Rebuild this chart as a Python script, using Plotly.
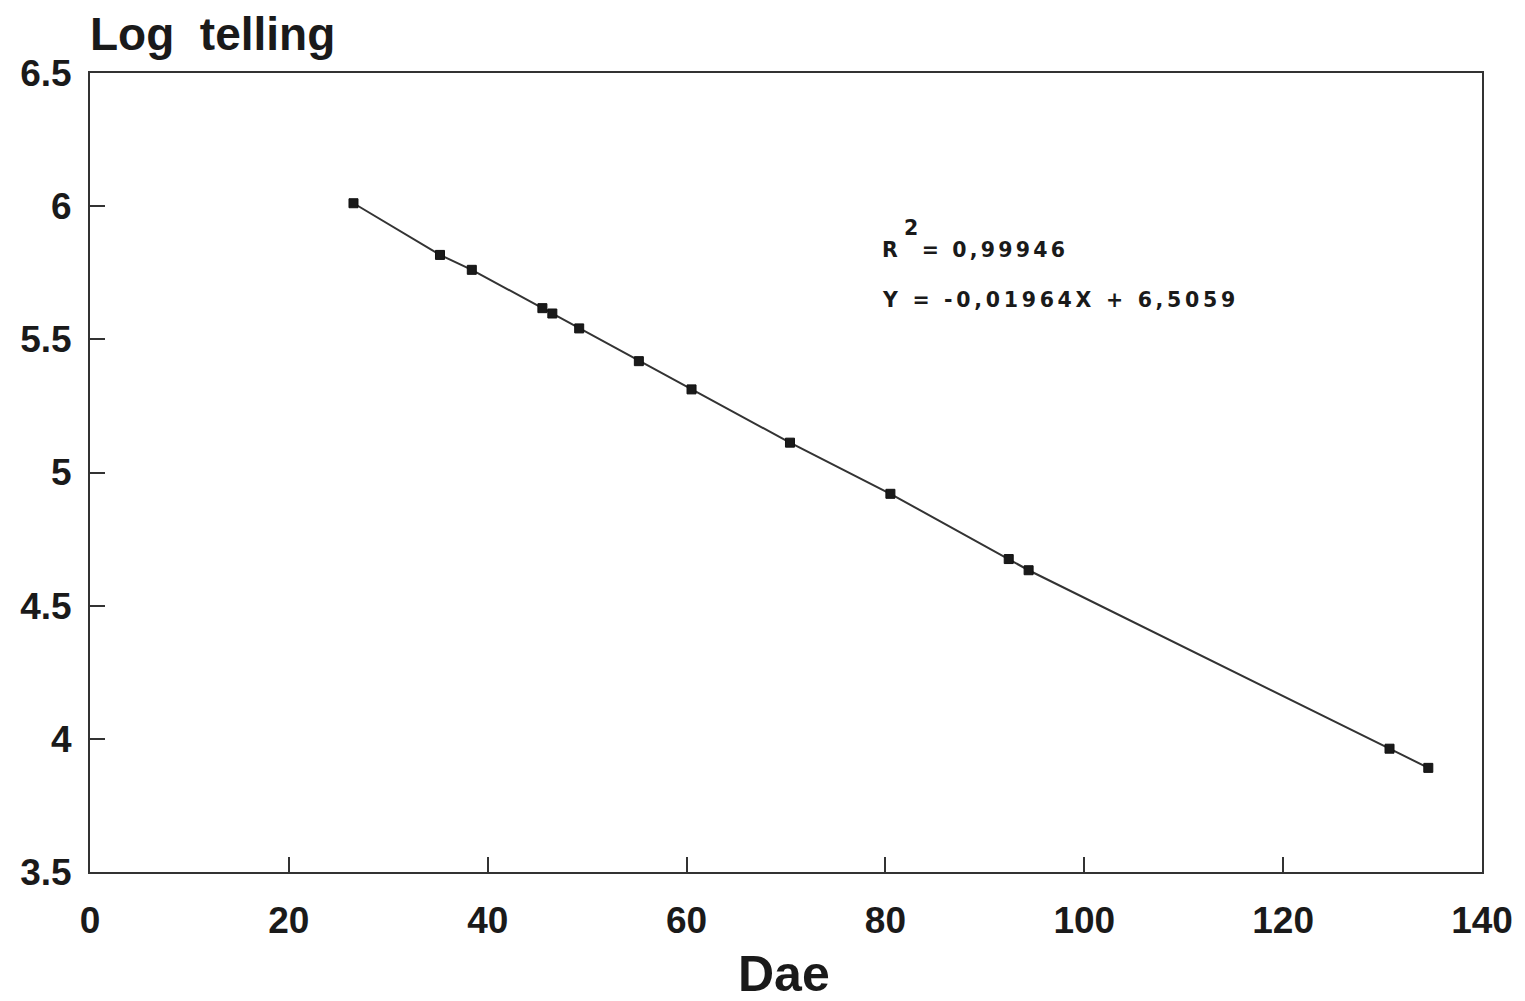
import plotly.graph_objects as go

# Data
dae = [26.5, 35.2, 38.4, 45.5, 46.5, 49.2, 55.2, 60.5, 70.4, 80.5, 92.4, 94.4, 130.7, 134.6]
log_telling = [6.011, 5.817, 5.761, 5.617, 5.597, 5.541, 5.418, 5.312, 5.112, 4.920, 4.675, 4.633, 3.963, 3.891]

x_ticks = [0, 20, 40, 60, 80, 100, 120, 140]
y_ticks = [3.5, 4, 4.5, 5, 5.5, 6, 6.5]

r2_text = "R  = 0,99946"
eq_text = "Y = -0,01964X + 6,5059"

FONT = "Liberation Sans, Arial, Helvetica, sans-serif"
WIDE = "DejaVu Sans, Verdana, sans-serif"

fig = go.Figure()
fig.add_trace(go.Scatter(
    x=dae, y=log_telling, mode="lines+markers",
    line=dict(color="#333333", width=2),
    marker=dict(symbol="square", size=9, color="#1a1a1a",
                line=dict(color="#111111", width=1)),
    showlegend=False, hoverinfo="skip",
))

axis_common = dict(
    showgrid=False, zeroline=False,
    showline=True, linecolor="#333333", linewidth=2, mirror=True,
    ticks="inside", ticklen=15, tickwidth=2, tickcolor="#333333",
    tickfont=dict(family=FONT, size=37, color="#1a1a1a", weight="bold"),
)

fig.update_xaxes(range=[0, 140], tickvals=x_ticks, ticklabelstandoff=15, **axis_common)
fig.update_yaxes(range=[3.5, 6.5], tickvals=y_ticks, ticklabelstandoff=9, **axis_common)

annotations = [
    dict(text="Log\u00a0\u00a0telling",
         xref="paper", yref="paper", x=-0.0015, y=1.0494,
         xanchor="left", yanchor="middle", showarrow=False,
         font=dict(family=FONT, size=46, color="#1a1a1a", weight="bold")),
    dict(text="Dae", xref="paper", yref="paper", x=0.4985, y=-0.1277,
         xanchor="center", yanchor="middle", showarrow=False,
         font=dict(family=FONT, size=50, color="#1a1a1a", weight="bold")),
    dict(text='<span style="letter-spacing:3.2px">' + r2_text + '</span>',
         xref="paper", yref="paper", x=0.5672, y=0.7785,
         xanchor="left", yanchor="middle", showarrow=False,
         font=dict(family=WIDE, size=20.5, color="#1a1a1a", weight="bold")),
    dict(text="2", xref="paper", yref="paper", x=0.5897, y=0.8054,
         xanchor="center", yanchor="middle", showarrow=False,
         font=dict(family=WIDE, size=20.5, color="#1a1a1a", weight="bold")),
    dict(text='<span style="letter-spacing:3.7px">' + eq_text + '</span>',
         xref="paper", yref="paper", x=0.5672, y=0.7159,
         xanchor="left", yanchor="middle", showarrow=False,
         font=dict(family=WIDE, size=20.5, color="#1a1a1a", weight="bold")),
]

fig.update_layout(
    width=1525, height=1001,
    margin=dict(l=90, r=41, t=73, b=129),
    paper_bgcolor="white", plot_bgcolor="white",
    annotations=annotations,
)

fig.write_html("out.html")
